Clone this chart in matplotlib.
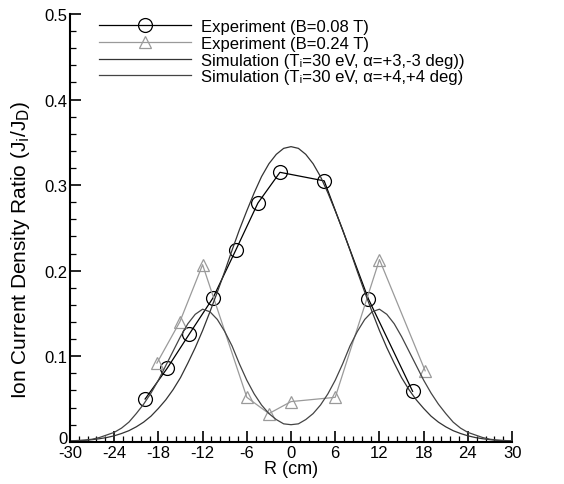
import matplotlib.pyplot as plt
import matplotlib.transforms as mtransforms
from matplotlib.ticker import MultipleLocator

plt.rcParams['font.family'] = ['Liberation Sans', 'DejaVu Sans']
plt.rcParams['axes.unicode_minus'] = False

# Experiment, B = 0.08 T
r_b08 = [-19.8, -16.8, -13.8, -10.6, -7.5, -4.5, -1.5, 4.5, 10.5, 16.5]
j_b08 = [0.050, 0.086, 0.126, 0.168, 0.224, 0.279, 0.315, 0.305, 0.167, 0.059]

# Experiment, B = 0.24 T
r_b24 = [-18.2, -15.1, -12.0, -6.0, -3.0, 0.0, 6.0, 12.0, 18.2]
j_b24 = [0.092, 0.140, 0.207, 0.052, 0.033, 0.047, 0.052, 0.213, 0.083]

r_sim = list(range(-30, 31))
j_sim_a = [0.0008, 0.0012, 0.0017, 0.0025, 0.0036, 0.005, 0.007, 0.0097, 0.013, 0.0175,
           0.023, 0.030, 0.039, 0.049, 0.061, 0.075, 0.092, 0.110, 0.130, 0.152,
           0.175, 0.199, 0.224, 0.248, 0.270, 0.291, 0.310, 0.325, 0.336, 0.343,
           0.345,
           0.343, 0.336, 0.325, 0.310, 0.291, 0.270, 0.248, 0.224, 0.199, 0.175,
           0.152, 0.130, 0.110, 0.092, 0.075, 0.061, 0.049, 0.039, 0.030, 0.023,
           0.0175, 0.013, 0.0097, 0.007, 0.005, 0.0036, 0.0025, 0.0017, 0.0012, 0.0008]
j_sim_b = [0.001, 0.0015, 0.002, 0.003, 0.005, 0.008, 0.011, 0.016, 0.023, 0.033,
           0.044, 0.057, 0.072, 0.089, 0.106, 0.123, 0.138, 0.149, 0.155, 0.152,
           0.143, 0.129, 0.112, 0.091, 0.072, 0.056, 0.043, 0.033, 0.026, 0.021,
           0.020,
           0.021, 0.026, 0.033, 0.043, 0.056, 0.072, 0.091, 0.112, 0.129, 0.143,
           0.152, 0.155, 0.149, 0.138, 0.123, 0.106, 0.089, 0.072, 0.057, 0.044,
           0.033, 0.023, 0.016, 0.011, 0.008, 0.005, 0.003, 0.002, 0.0015, 0.001]

fig = plt.figure(figsize=(5.64, 4.85), dpi=100)
ax = fig.add_axes([0.124, 0.087, 0.784, 0.882])

ax.plot(r_b08, j_b08, color='black', lw=0.9, marker='o', ms=10, mfc='none',
        mec='black', mew=0.9, label='Experiment (B=0.08 T)')
ax.plot(r_b24, j_b24, color='#9a9a9a', lw=0.9, marker='^', ms=9, mfc='none',
        mec='#9a9a9a', mew=0.9, label='Experiment (B=0.24 T)')
ax.plot(r_sim, j_sim_a, color='#333333', lw=0.9,
        label='Simulation (Tᵢ=30 eV, α=+3,-3 deg))')
ax.plot(r_sim, j_sim_b, color='#444444', lw=0.9,
        label='Simulation (Tᵢ=30 eV, α=+4,+4 deg)')

ax.set_xlim(-30, 30)
ax.set_ylim(0, 0.5)
ax.xaxis.set_major_locator(MultipleLocator(6))
ax.xaxis.set_minor_locator(MultipleLocator(1.2))
ax.yaxis.set_minor_locator(MultipleLocator(0.02))
ax.set_yticks([0, 0.1, 0.2, 0.3, 0.4, 0.5], ['0', '0.1', '0.2', '0.3', '0.4', '0.5'])
ax.tick_params(which='both', direction='in', labelsize=12, pad=2)
ax.tick_params(which='major', length=8, width=1.2)
ax.tick_params(which='minor', length=4, width=0.9)
for side in ['top', 'right']:
    ax.spines[side].set_visible(False)
for side in ['left', 'bottom']:
    ax.spines[side].set_linewidth(1.5)

# lift the "0" label a little so it sits above "-30" as in the original
zero_lbl = ax.get_yticklabels()[0]
zero_lbl.set_transform(zero_lbl.get_transform() +
                       mtransforms.ScaledTranslation(0, 3.5 / 72, fig.dpi_scale_trans))

ax.set_xlabel('R (cm)', fontsize=13, labelpad=0)
ax.set_ylabel(r'Ion Current Density Ratio (J$_\mathrm{i}$/J$_\mathrm{D}$)', fontsize=15)
ax.yaxis.set_label_coords(-0.085, 0.45)

ax.legend(loc='upper left', bbox_to_anchor=(0.04, 1.015), frameon=False, fontsize=12,
          handlelength=5.5, labelspacing=0.1, handletextpad=0.6, borderaxespad=0.3)

fig.savefig('out.png', dpi=100)
